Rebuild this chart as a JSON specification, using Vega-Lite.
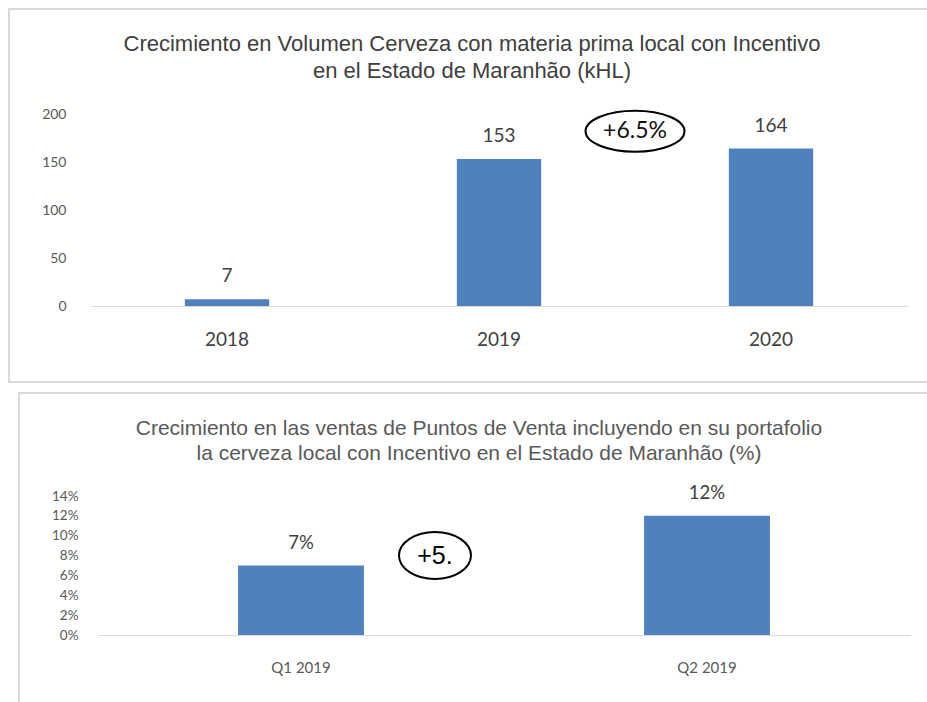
{
  "$schema": "https://vega.github.io/schema/vega-lite/v6.json",
  "padding": {"left": 8, "top": 8, "right": 0, "bottom": 0},
  "background": "white",
  "center": true,
  "spacing": 9,
  "config": {
    "view": {"stroke": "#d9d9d9", "strokeWidth": 2},
    "axis": {"grid": false, "ticks": false, "domain": false}
  },
  "vconcat": [
    {
      "width": 940,
      "height": 373,
      "title": {
        "text": ["Crecimiento en Volumen Cerveza con materia prima local con Incentivo", "en el Estado de Maranhão (kHL)"],
        "font": "Liberation Sans",
        "fontSize": 22,
        "fontWeight": "normal",
        "color": "#404040",
        "anchor": "middle",
        "orient": "top",
        "baseline": "top",
        "offset": -74,
        "lineHeight": 27,
        "dx": -7
      },
      "data": {"values": [
        {"year": "2018", "volume": 7},
        {"year": "2019", "volume": 153},
        {"year": "2020", "volume": 164}
      ]},
      "encoding": {
        "x": {
          "field": "year", "type": "nominal",
          "scale": {"range": [82, 898], "paddingInner": 0, "paddingOuter": 0},
          "axis": {"title": null, "labelAngle": 0, "domain": true, "domainColor": "#d9d9d9", "domainWidth": 1, "offset": -76, "labelPadding": 24, "labelFont": "Lato", "labelFontSize": 19, "labelColor": "#404040"}
        },
        "y": {
          "field": "volume", "type": "quantitative",
          "scale": {"domain": [0, 200], "range": [297, 105], "nice": false},
          "axis": {"title": null, "values": [0, 50, 100, 150, 200], "offset": -57, "labelPadding": 0, "labelFont": "Lato", "labelFontSize": 14, "labelColor": "#595959"}
        }
      },
      "layer": [
        {"mark": {"type": "bar", "color": "#4f81bd", "width": {"band": 0.31}}},
        {"mark": {"type": "text", "baseline": "bottom", "dy": -13, "font": "Lato", "fontSize": 19, "color": "#404040"},
         "encoding": {"text": {"field": "volume", "type": "quantitative"}}},
        {"data": {"values": [{"year": "2020", "val": 182, "label": "+6.5%"}]},
         "mark": {"type": "point", "shape": "M-1,0 C-1,-0.229 -0.552,-0.414 0,-0.414 C0.552,-0.414 1,-0.229 1,0 C1,0.229 0.552,0.414 0,0.414 C-0.552,0.414 -1,0.229 -1,0 Z", "size": 9801, "filled": false, "stroke": "black", "strokeWidth": 2, "opacity": 1},
         "encoding": {
           "x": {"field": "year", "type": "nominal", "bandPosition": 0},
           "y": {"field": "val", "type": "quantitative"}
         }},
        {"data": {"values": [{"year": "2020", "val": 182, "label": "+6.5%"}]},
         "mark": {"type": "text", "font": "Lato", "fontSize": 23, "color": "#111111", "baseline": "middle"},
         "encoding": {
           "x": {"field": "year", "type": "nominal", "bandPosition": 0},
           "y": {"field": "val", "type": "quantitative"},
           "text": {"field": "label"}
         }}
      ]
    },
    {
      "width": 920,
      "height": 320,
      "title": {
        "text": ["Crecimiento en las ventas de Puntos de Venta incluyendo en su portafolio", "la cerveza local con Incentivo en el Estado de Maranhão (%)"],
        "font": "Liberation Sans",
        "fontSize": 21,
        "fontWeight": "normal",
        "color": "#595959",
        "anchor": "middle",
        "orient": "top",
        "baseline": "top",
        "offset": -71,
        "lineHeight": 25
      },
      "data": {"values": [
        {"quarter": "Q1 2019", "share": 0.07},
        {"quarter": "Q2 2019", "share": 0.12}
      ]},
      "encoding": {
        "x": {
          "field": "quarter", "type": "nominal",
          "scale": {"range": [79, 891], "paddingInner": 0, "paddingOuter": 0},
          "axis": {"title": null, "labelAngle": 0, "domain": true, "domainColor": "#d9d9d9", "domainWidth": 1, "offset": -78, "labelPadding": 25, "labelFont": "Lato", "labelFontSize": 15, "labelColor": "#595959"}
        },
        "y": {
          "field": "share", "type": "quantitative",
          "scale": {"domain": [0, 0.14], "range": [242, 103], "nice": false},
          "axis": {"title": null, "values": [0, 0.02, 0.04, 0.06, 0.08, 0.1, 0.12, 0.14], "format": ".0%", "offset": -59, "labelPadding": 0, "labelFont": "Lato", "labelFontSize": 13.5, "labelColor": "#595959"}
        }
      },
      "layer": [
        {"mark": {"type": "bar", "color": "#4f81bd", "width": {"band": 0.31}}},
        {"mark": {"type": "text", "baseline": "bottom", "dy": -13, "font": "Lato", "fontSize": 18.5, "color": "#404040"},
         "encoding": {"text": {"field": "share", "type": "quantitative", "format": ".0%"}}},
        {"data": {"values": [{"quarter": "Q1 2019", "val": 0.08, "label": "+5."}]},
         "mark": {"type": "point", "shape": "M-1,0 C-1,-0.36 -0.552,-0.653 0,-0.653 C0.552,-0.653 1,-0.36 1,0 C1,0.36 0.552,0.653 0,0.653 C-0.552,0.653 -1,0.36 -1,0 Z", "size": 5184, "filled": false, "stroke": "black", "strokeWidth": 2, "opacity": 1},
         "encoding": {
           "x": {"field": "quarter", "type": "nominal", "bandPosition": 0.83},
           "y": {"field": "val", "type": "quantitative"}
         }},
        {"data": {"values": [{"quarter": "Q1 2019", "val": 0.08, "label": "+5."}]},
         "mark": {"type": "text", "font": "Liberation Sans", "fontSize": 25, "color": "#000000", "baseline": "middle"},
         "encoding": {
           "x": {"field": "quarter", "type": "nominal", "bandPosition": 0.83},
           "y": {"field": "val", "type": "quantitative"},
           "text": {"field": "label"}
         }}
      ]
    }
  ]
}
